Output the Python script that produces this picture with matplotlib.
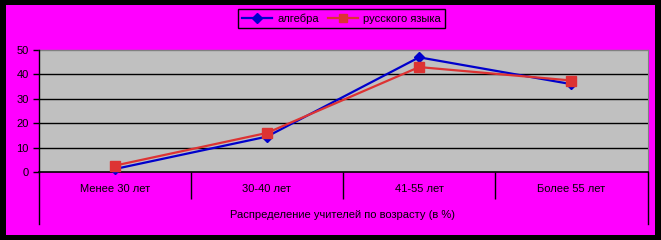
import matplotlib
matplotlib.use("Agg")
import matplotlib.pyplot as plt
from matplotlib.patches import Rectangle
from matplotlib.lines import Line2D

categories = ["Менее 30 лет", "30-40 лет", "41-55 лет", "Более 55 лет"]
algebra = [1.2, 14.5, 47, 36]
russian = [2.6, 16, 43, 37.5]
series_names = ["алгебра", "русского языка"]
x_title = "Распределение учителей по возрасту (в %)"
yticks = [0, 10, 20, 30, 40, 50]

plt.rcParams['font.family'] = ['Liberation Sans', 'DejaVu Sans']
FS = 8
W, H = 661, 240
fig = plt.figure(figsize=(W / 100, H / 100), dpi=100)
fig.patch.set_facecolor('black')
fig.patches.append(Rectangle((6 / W, 5 / H), (655 - 6) / W, (235 - 5) / H,
                             transform=fig.transFigure, facecolor='#FF00FF',
                             edgecolor='none', zorder=-10))

L, R, T, B = 38.5, 647.5, 50, 172
ax = fig.add_axes([L / W, 1 - B / H, (R - L) / W, (B - T) / H])
ax.set_zorder(1)
ax.set_facecolor('#C0C0C0')
xs = list(range(len(categories)))
ax.plot(xs, algebra, color='#0000CC', lw=1.6, marker='D', ms=5.5, zorder=3, clip_on=False)
ax.plot(xs, russian, color='#DD3333', lw=1.6, marker='s', ms=6.5, zorder=4, clip_on=False)

ax.set_xlim(-0.5, len(categories) - 0.5)
ax.set_ylim(0, 50)
ax.set_yticks(yticks)
ax.set_yticklabels([str(v) for v in yticks], fontsize=FS)
ax.tick_params(axis='y', length=4, width=1, color='black', pad=3)
for v in yticks[1:-1]:
    ax.axhline(v, color='black', lw=1, zorder=1)

# category separators (major ticks), labels (minor ticks)
ax.set_xticks([i + 0.5 for i in range(len(categories) - 1)])
ax.set_xticklabels([])
ax.tick_params(axis='x', which='major', length=19.5, width=1, color='black', direction='out')
ax.set_xticks(xs, minor=True)
ax.set_xticklabels(categories, minor=True, fontsize=FS)
ax.tick_params(axis='x', which='minor', length=0, pad=8.5)

for s in ['top', 'right']:
    ax.spines[s].set_visible(False)
ax.spines['left'].set_color('black')
ax.spines['bottom'].set_color('black')
ax.spines['left'].set_linewidth(1)
ax.spines['bottom'].set_linewidth(1.2)
# top gray border
ax.plot([0, 1], [1, 1], transform=ax.transAxes, color='#808080', lw=1, clip_on=False)
ax.plot([1, 1], [0, 1], transform=ax.transAxes, color='#808080', lw=0.8, clip_on=False)

# outer lines of the category axis box
fig.add_artist(Line2D([L / W, L / W], [1 - B / H, 1 - 224 / H], color='black', lw=1))
fig.add_artist(Line2D([R / W, R / W], [1 - B / H, 1 - 224 / H], color='black', lw=1))

fig.text((L + R) / 2 / W, 1 - 215.5 / H, x_title, ha='center', va='center', fontsize=FS)

handles = [Line2D([], [], color='#0000CC', lw=1.6, marker='D', ms=5),
           Line2D([], [], color='#DD3333', lw=1.6, marker='s', ms=6)]
leg = fig.legend(handles, series_names, loc='center',
                 bbox_to_anchor=(341.5 / W, 1 - 18.5 / H), ncol=2, fontsize=FS,
                 frameon=True, fancybox=False, edgecolor='black', facecolor='#FF00FF',
                 framealpha=1, handlelength=2.7, handletextpad=0.45, columnspacing=0.8,
                 borderpad=0.35, borderaxespad=0)
leg.get_frame().set_linewidth(1)

fig.savefig('out.png', dpi=100, facecolor=fig.get_facecolor())
